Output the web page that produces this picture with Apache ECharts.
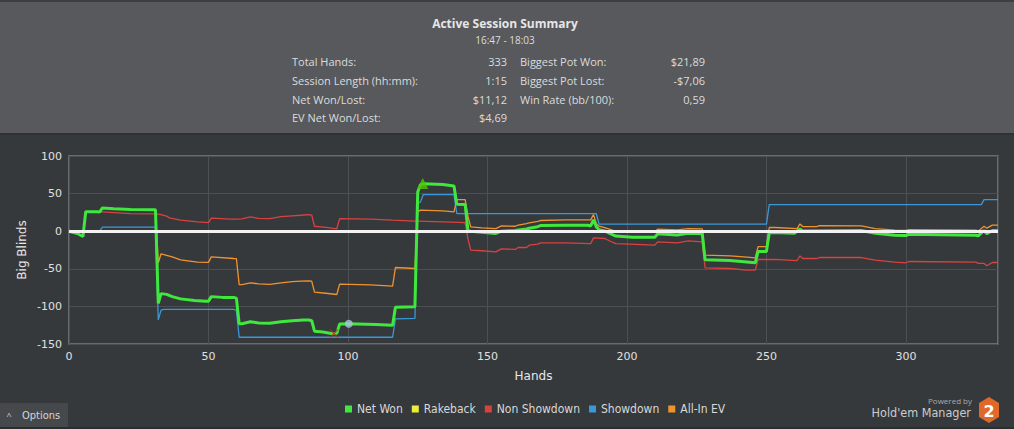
<!DOCTYPE html>
<html><head><meta charset="utf-8">
<script src="https://cdn.jsdelivr.net/npm/echarts@6/dist/echarts.min.js"></script>
<style>html,body{margin:0;padding:0;background:#36393c;}#c{width:1014px;height:429px;}</style>
</head><body><div id="c"></div>
<script>
// ---- data (hand, big blinds) ----
const netWon = [[0,0],[3,-3],[5,-7],[6,26],[10,26],[11,25.5],[12,31],[16,30],[22,29],[31,28.5],[32,-96],[33,-83],[35,-84],[37,-87],[40,-90],[45,-92],[49,-93],[50,-93],[51,-87],[55,-88],[59,-88],[60,-89],[61,-123],[62,-123],[65,-120.5],[68,-122],[72,-122.5],[76,-120.5],[80,-119],[84,-118],[86,-118],[87,-119],[88,-133],[91,-134],[94,-136],[96,-135.8],[97,-123.5],[100,-123],[110,-124],[116,-125],[117,-101],[124,-100.5],[125,52],[126,62],[127,63],[134,62],[138,60],[139,36],[142,35.5],[143,1],[144,0],[148,-1.5],[153,-3],[155,0],[160,1],[161,1.5],[164,3],[165,4],[168,6],[169,7.5],[178,8],[186,8],[187,7],[188,15],[189,6],[190,1.8],[192,0.4],[195,-5],[196,-6.5],[202,-8],[210,-8],[211,-3.5],[218,-5],[222,-2.7],[227,-3.5],[228,-38],[237,-39],[243,-41],[246,-42],[247,-27],[250,-27],[251,-2],[253,-1.8],[260,-2.7],[262,3],[263,0.4],[284,0.9],[289,-2.7],[296,-5.3],[300,-5.8],[301,-4],[325,-5.3],[326,-6],[328,0.9],[329,-3.5],[331,0.9],[333,0.9]];
const rakeback = [[0,0],[333,0]];
const nonShowdown = [[0,0],[3,-3],[5,-7],[6,26],[12,25.7],[22,23.5],[31,23],[33,22],[35,20],[36,17.7],[40,14.6],[46,12.4],[50,11.5],[51,17.5],[58,16],[60,16],[62,16.5],[65,19],[68,17],[72,16.8],[76,19.5],[80,20.5],[83,21.2],[86,22],[87,21.5],[88,6.6],[92,5],[96,3.2],[97,16.8],[108,16],[116,14.6],[124,13.3],[125,13.3],[134,12.4],[142,11.5],[143,-10],[144,-25.2],[148,-26],[153,-27.4],[155,-23.5],[160,-24.3],[161,-21.7],[164,-21.7],[165,-18.6],[168,-17.3],[169,-15.5],[178,-15.5],[187,-16.5],[188,-8.9],[192,-9.7],[195,-15],[196,-16.4],[210,-18.6],[211,-14.2],[218,-15.5],[222,-12.8],[227,-14.2],[228,-48.7],[237,-49.6],[243,-51.8],[246,-51.8],[247,-37.6],[253,-37.6],[261,-39],[262,-32.8],[263,-36.3],[268,-36.3],[269,-35],[284,-35],[289,-38.5],[296,-41.2],[300,-42],[301,-40.3],[325,-41.2],[326,-42.9],[328,-42.9],[329,-46],[331,-41.6],[333,-41.6]];
const showdown = [[0,0],[11,0],[12,5.3],[31,5.3],[32,-118],[33,-105],[34,-104],[59,-104],[60,-105],[61,-141],[116,-141],[117,-116.5],[124,-116],[125,37],[126,39],[127,48.7],[138,48.7],[139,23.5],[189,23.5],[190,9.3],[250,9.3],[251,35.4],[327,35.4],[328,42],[333,42]];
const allInEV = [[0,0],[3,-3],[5,-7],[6,26],[10,26],[11,25.5],[12,31],[16,30],[22,29],[31,28.5],[32,-42],[33,-30],[35,-32],[37,-34],[40,-38],[46,-41.2],[50,-41.5],[51,-34.1],[59,-36.3],[60,-36.5],[61,-71],[62,-71],[65,-68.6],[68,-70],[72,-70.8],[76,-68.6],[80,-67],[83,-66.4],[86,-66],[87,-66.5],[88,-81],[92,-82.5],[96,-84.2],[97,-70.4],[108,-71.3],[116,-73],[117,-48.3],[124,-49.6],[125,26],[126,28],[134,27],[138,25.7],[139,42],[142,42],[143,20],[144,5.7],[148,4.4],[153,3.5],[155,7],[160,6.6],[161,8],[164,10],[165,11],[168,13],[169,14.2],[178,15],[187,15],[188,22],[189,10],[190,6.6],[192,4.9],[195,1],[196,0],[210,-0.4],[211,2.7],[218,1.8],[222,3.5],[227,3.1],[228,-31.9],[237,-32.8],[243,-34.5],[246,-35.4],[247,-20.4],[250,-20.4],[251,4.9],[253,4.9],[261,3.5],[262,9.7],[263,6.2],[268,6.2],[269,7.5],[284,7.1],[289,3.5],[296,1.3],[300,0.9],[301,2.2],[325,1.3],[326,0.4],[328,6.6],[329,4],[331,8],[333,8]];
const markHigh = [[126.8,63.3]];
const markLow = [[95,-136]];
const markDot = [[100.3,-123]];
const seriesNames = ['Net Won','Rakeback','Non Showdown','Showdown','All-In EV'];
const summaryTitle = 'Active Session Summary';
const summaryTime = '16:47 - 18:03';
const summaryLeft = [['Total Hands:','333'],['Session Length (hh:mm):','1:15'],['Net Won/Lost:','$11,12'],['EV Net Won/Lost:','$4,69']];
const summaryRight = [['Biggest Pot Won:','$21,89'],['Biggest Pot Lost:','-$7,06'],['Win Rate (bb/100):','0,59']];

const chart = echarts.init(document.getElementById('c'), null, {renderer:'svg'});
const hf = '"Open Sans", "Noto Sans", sans-serif';
const rowY = [61.5, 80, 99, 117.5];
const g = [
  {type:'rect', shape:{x:0,y:0,width:1014,height:133}, style:{fill:'#57595c'}, z:0},
  {type:'rect', shape:{x:0,y:0,width:1014,height:2}, style:{fill:'#3c3f42'}, z:0},
  {type:'rect', shape:{x:0,y:133,width:1014,height:2}, style:{fill:'#2e3033'}, z:0},
  {type:'text', x:505, y:23, style:{text:summaryTitle, fill:'#e6e6e6', font:'bold 12px '+hf, textAlign:'center', textVerticalAlign:'middle'}},
  {type:'text', x:505, y:40, style:{text:summaryTime, fill:'#dcdcdc', font:'10px '+hf, textAlign:'center', textVerticalAlign:'middle'}},
  {type:'rect', shape:{x:0,y:403,width:68,height:24}, style:{fill:'#46494c'}, z:0},
  {type:'text', x:9, y:415, style:{text:'^', fill:'#cfcfcf', font:'9px '+hf, textAlign:'center', textVerticalAlign:'middle'}},
  {type:'text', x:22, y:415, style:{text:'Options', fill:'#d6d6d6', font:'11px "DejaVu Sans Condensed", "DejaVu Sans", sans-serif', textAlign:'left', textVerticalAlign:'middle'}},
  {type:'rect', shape:{x:0,y:427,width:1014,height:2}, style:{fill:'#2b2d30'}, z:0},
  {type:'text', x:972, y:400, style:{text:'Powered by', fill:'#aaaaaa', font:'8px '+hf, textAlign:'right', textVerticalAlign:'middle'}},
  {type:'text', x:971, y:412, style:{text:"Hold'em Manager", fill:'#cccccc', font:'12.5px "DejaVu Sans Condensed", "DejaVu Sans", sans-serif', textAlign:'right', textVerticalAlign:'middle'}},
  {type:'polygon', shape:{points:[[989,397],[999,403],[999,417],[989,423],[979,417],[979,403]]}, style:{fill:'#e0692a'}},
  {type:'text', x:989, y:411, style:{text:'2', fill:'#ffffff', font:'bold 16px "DejaVu Sans", sans-serif', textAlign:'center', textVerticalAlign:'middle'}}
];
summaryLeft.forEach((r,i)=>{
  g.push({type:'text', x:292, y:rowY[i], style:{text:r[0], fill:'#dcdcdc', font:'11px '+hf, textAlign:'left', textVerticalAlign:'middle'}});
  g.push({type:'text', x:507, y:rowY[i], style:{text:r[1], fill:'#dcdcdc', font:'11px '+hf, textAlign:'right', textVerticalAlign:'middle'}});
});
summaryRight.forEach((r,i)=>{
  g.push({type:'text', x:520, y:rowY[i], style:{text:r[0], fill:'#dcdcdc', font:'11px '+hf, textAlign:'left', textVerticalAlign:'middle'}});
  g.push({type:'text', x:705, y:rowY[i], style:{text:r[1], fill:'#dcdcdc', font:'11px '+hf, textAlign:'right', textVerticalAlign:'middle'}});
});

const axisFont = {color:'#e0e0e0', fontSize:11, fontFamily:'"DejaVu Sans", sans-serif'};
function line(name, data, color, width, z){
  return {name, type:'line', data, symbol:'none', z, lineStyle:{color, width}, itemStyle:{color}, animation:false};
}
chart.setOption({
  backgroundColor:'#36393c',
  animation:false,
  graphic:g,
  grid:{left:69, right:16, top:156, bottom:85, show:true, borderColor:'#7b7d80', borderWidth:1.5, backgroundColor:'transparent'},
  legend:{data:seriesNames, bottom:9, left:340, itemWidth:7, itemHeight:7, itemGap:9, icon:'rect',
    textStyle:{color:'#d8d8d8', fontSize:12, fontFamily:'"DejaVu Sans Condensed", "DejaVu Sans", sans-serif'}},
  xAxis:{type:'value', min:0, max:333, interval:50, name:'Hands', nameLocation:'middle', nameGap:26, nameMoveOverlap:false,
    nameTextStyle:{color:'#e8e8e8', fontSize:12, fontFamily:'"DejaVu Sans", sans-serif'},
    axisLine:{show:false}, axisTick:{show:false},
    axisLabel:Object.assign({margin:7, showMaxLabel:false}, axisFont),
    splitLine:{show:true, lineStyle:{color:'#4d5053', width:1}}},
  yAxis:{type:'value', min:-150, max:100, interval:50, name:'Big Blinds', nameLocation:'middle', nameGap:41, nameMoveOverlap:false,
    nameTextStyle:{color:'#e8e8e8', fontSize:12, fontFamily:'"DejaVu Sans", sans-serif'},
    axisLine:{show:false}, axisTick:{show:false},
    axisLabel:Object.assign({margin:7}, axisFont),
    splitLine:{show:true, lineStyle:{color:'#4d5053', width:1}}},
  series:[
    line('Non Showdown', nonShowdown, '#d8423f', 1.3, 2),
    line('Showdown', showdown, '#3a98d8', 1.3, 2),
    line('All-In EV', allInEV, '#f0932f', 1.3, 2),
    Object.assign(line('Rakeback', rakeback, '#ecec3a', 1.3, 3),
      {markLine:{silent:true, symbol:'none', label:{show:false}, lineStyle:{color:'#f2f2f2', width:3, type:'solid'}, data:[{yAxis:0}]}}),
    line('Net Won', netWon, '#3fe83c', 3, 4),
    {type:'scatter', data:markHigh, symbol:'triangle', symbolSize:11, itemStyle:{color:'#52c400'}, z:5},
    {type:'scatter', data:markLow, symbol:'path://M1,0L5,4L9,0L10,1L6,5L10,9L9,10L5,6L1,10L0,9L4,5L0,1Z', symbolSize:9, itemStyle:{color:'#d02020'}, z:5},
    {type:'scatter', data:markDot, symbol:'circle', symbolSize:8, itemStyle:{color:'#a9c3de'}, z:5}
  ]
});
</script></body></html>
